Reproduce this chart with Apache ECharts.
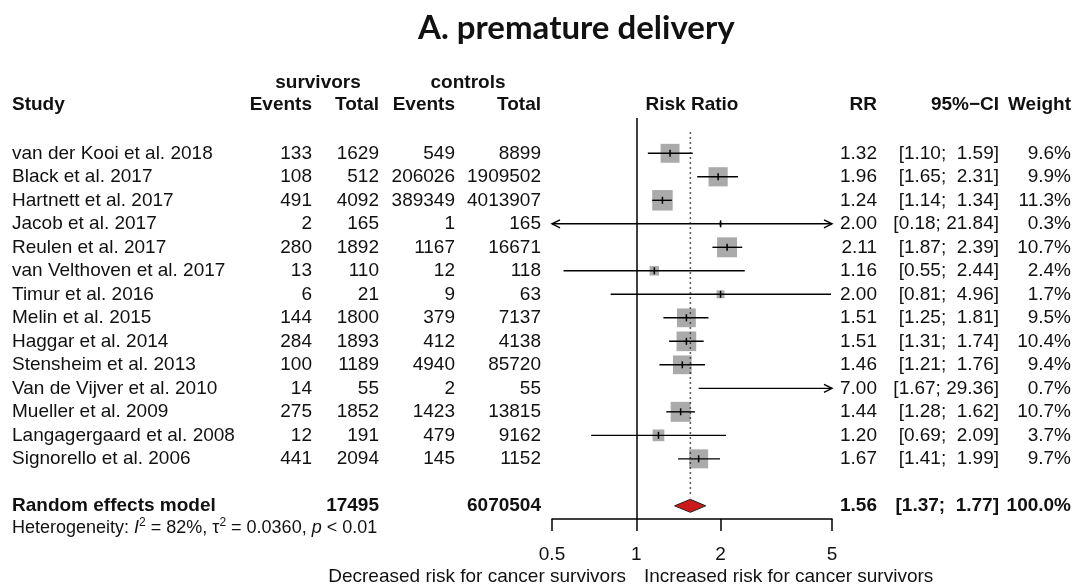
<!DOCTYPE html>
<html>
<head>
<meta charset="UTF-8">
<title>A. premature delivery</title>
<script src="https://cdn.jsdelivr.net/npm/echarts@6/dist/echarts.min.js"></script>
<style>html,body{margin:0;padding:0;background:#fff}</style>
</head>
<body>
<div id="main" style="width:1077px;height:588px"></div>
<script type="text/javascript">
// study data
var studies = ['van der Kooi et al. 2018', 'Black et al. 2017', 'Hartnett et al. 2017', 'Jacob et al. 2017',
    'Reulen et al. 2017', 'van Velthoven et al. 2017', 'Timur et al. 2016', 'Melin et al. 2015',
    'Haggar et al. 2014', 'Stensheim et al. 2013', 'Van de Vijver et al. 2010', 'Mueller et al. 2009',
    'Langagergaard et al. 2008', 'Signorello et al. 2006'];
var evSurv = [133, 108, 491, 2, 280, 13, 6, 144, 284, 100, 14, 275, 12, 441];
var totSurv = [1629, 512, 4092, 165, 1892, 110, 21, 1800, 1893, 1189, 55, 1852, 191, 2094];
var evCtrl = [549, 206026, 389349, 1, 1167, 12, 9, 379, 412, 4940, 2, 1423, 479, 145];
var totCtrl = [8899, 1909502, 4013907, 165, 16671, 118, 63, 7137, 4138, 85720, 55, 13815, 9162, 1152];
var rr = [1.32, 1.96, 1.24, 2.00, 2.11, 1.16, 2.00, 1.51, 1.51, 1.46, 7.00, 1.44, 1.20, 1.67];
var ciLow = [1.10, 1.65, 1.14, 0.18, 1.87, 0.55, 0.81, 1.25, 1.31, 1.21, 1.67, 1.28, 0.69, 1.41];
var ciHigh = [1.59, 2.31, 1.34, 21.84, 2.39, 2.44, 4.96, 1.81, 1.74, 1.76, 29.36, 1.62, 2.09, 1.99];
var weight = [9.6, 9.9, 11.3, 0.3, 10.7, 2.4, 1.7, 9.5, 10.4, 9.4, 0.7, 10.7, 3.7, 9.7];

// pooled (random effects)
var pooledTotals = [17495, 6070504];
var pooledRR = [1.56, 1.37, 1.77];
var pooledWeight = 100.0;
var heterogeneity = ['82%', '0.0360', '0.01'];

var axisTicks = [0.5, 1, 2, 5];
var axisMin = 0.5, axisMax = 5;

var FONT = '"Liberation Sans", Arial, sans-serif';
var FS = 19;
var rows = studies.map(function (s, i) { return i; });
// row positions (in row units of the hidden y axis)
var pooledRow = 15, hetRow = 15.95, headRow = -2.05, groupRow = -3.0;

// column x positions
var xStudy = 12, xEvS = 312, xTotS = 379, xEvC = 455, xTotC = 541, xRR = 877, xCI = 999, xW = 1071;

function ciText(lo, hi) {
    return '[' + lo.toFixed(2) + ';' + (hi < 10 ? '  ' : ' ') + hi.toFixed(2) + ']';
}

// a column of text, placed on the rows of the y axis
function textCol(x, align, rowList, texts, bold) {
    return {
        type: 'custom',
        silent: true,
        data: rowList.map(function (r) { return [1, r]; }),
        encode: {x: 0, y: 1},
        renderItem: function (params, api) {
            var y = api.coord([1, api.value(1)])[1];
            return {
                type: 'text',
                style: {
                    x: x, y: y, text: String(texts[params.dataIndex]),
                    align: align, verticalAlign: 'middle',
                    fontFamily: FONT, fontSize: FS, fontWeight: bold ? 'bold' : 'normal',
                    fill: '#111'
                }
            };
        }
    };
}

var chart = echarts.init(document.getElementById('main'));

var series = [];

// dotted line at pooled estimate + solid line of no effect
series.push({
    type: 'line',
    silent: true,
    symbol: 'none',
    data: [[pooledRR[0], -0.9], [pooledRR[0], 14.65]],
    lineStyle: {color: '#222', width: 1.5, type: [1.5, 3.5]},
    markLine: {
        silent: true,
        symbol: 'none',
        label: {show: false},
        lineStyle: {color: '#000', width: 1.5, type: 'solid'},
        data: [{xAxis: 1}]
    }
});

// study boxes and CIs
series.push({
    type: 'custom',
    silent: true,
    data: rows.map(function (i) { return [rr[i], i, ciLow[i], ciHigh[i], weight[i]]; }),
    encode: {x: [0, 2, 3], y: 1},
    renderItem: function (params, api) {
        var est = api.value(0), row = api.value(1), lo = api.value(2), hi = api.value(3), w = api.value(4);
        var y = api.coord([1, row])[1];
        var xa = api.coord([Math.max(lo, axisMin), row])[0];
        var xb = api.coord([Math.min(hi, axisMax), row])[0];
        var ch = [];
        var xe = null;
        if (est >= axisMin && est <= axisMax) {
            xe = api.coord([est, row])[0];
            var s = 6.1 * Math.sqrt(w);
            ch.push({type: 'rect', shape: {x: xe - s / 2, y: y - s / 2, width: s, height: s},
                style: {fill: '#aaaaaa'}});
        }
        ch.push({type: 'line', shape: {x1: xa, y1: y, x2: xb, y2: y},
            style: {stroke: '#000', lineWidth: 1.4}});
        if (lo < axisMin) {
            ch.push({type: 'polyline', shape: {points: [[xa + 8, y - 4], [xa, y], [xa + 8, y + 4]]},
                style: {stroke: '#000', lineWidth: 1.4, fill: null}});
        }
        if (hi > axisMax) {
            ch.push({type: 'polyline', shape: {points: [[xb - 8, y - 4], [xb, y], [xb - 8, y + 4]]},
                style: {stroke: '#000', lineWidth: 1.4, fill: null}});
        }
        if (xe !== null) {
            ch.push({type: 'line', shape: {x1: xe, y1: y - 3.5, x2: xe, y2: y + 3.5},
                style: {stroke: '#000', lineWidth: 1.5}});
        }
        return {type: 'group', children: ch};
    }
});

// pooled diamond
series.push({
    type: 'custom',
    silent: true,
    data: [[pooledRR[0], pooledRow, pooledRR[1], pooledRR[2]]],
    encode: {x: [0, 2, 3], y: 1},
    renderItem: function (params, api) {
        var row = api.value(1);
        var y = api.coord([1, row])[1];
        var xe = api.coord([api.value(0), row])[0];
        var xa = api.coord([api.value(2), row])[0];
        var xb = api.coord([api.value(3), row])[0];
        return {
            type: 'polygon',
            shape: {points: [[xa, y], [xe, y - 6.5], [xb, y], [xe, y + 6.5]]},
            style: {fill: '#cc1a1a', stroke: '#222', lineWidth: 1}
        };
    }
});

// table columns
series.push(textCol(xStudy, 'left', rows, studies));
series.push(textCol(xEvS, 'right', rows, evSurv));
series.push(textCol(xTotS, 'right', rows, totSurv));
series.push(textCol(xEvC, 'right', rows, evCtrl));
series.push(textCol(xTotC, 'right', rows, totCtrl));
series.push(textCol(xRR, 'right', rows, rr.map(function (v) { return v.toFixed(2); })));
series.push(textCol(xCI, 'right', rows, rows.map(function (i) { return ciText(ciLow[i], ciHigh[i]); })));
series.push(textCol(xW, 'right', rows, weight.map(function (v) { return v.toFixed(1) + '%'; })));

// pooled row
series.push(textCol(xStudy, 'left', [pooledRow], ['Random effects model'], true));
series.push(textCol(xTotS, 'right', [pooledRow], [pooledTotals[0]], true));
series.push(textCol(xTotC, 'right', [pooledRow], [pooledTotals[1]], true));
series.push(textCol(xRR, 'right', [pooledRow], [pooledRR[0].toFixed(2)], true));
series.push(textCol(xCI, 'right', [pooledRow], [ciText(pooledRR[1], pooledRR[2])], true));
series.push(textCol(xW, 'right', [pooledRow], [pooledWeight.toFixed(1) + '%'], true));

// headers
series.push(textCol(318, 'center', [groupRow], ['survivors'], true));
series.push(textCol(468, 'center', [groupRow], ['controls'], true));
series.push(textCol(xStudy, 'left', [headRow], ['Study'], true));
series.push(textCol(xEvS, 'right', [headRow], ['Events'], true));
series.push(textCol(xTotS, 'right', [headRow], ['Total'], true));
series.push(textCol(xEvC, 'right', [headRow], ['Events'], true));
series.push(textCol(xTotC, 'right', [headRow], ['Total'], true));
series.push(textCol(692, 'center', [headRow], ['Risk Ratio'], true));
series.push(textCol(xRR, 'right', [headRow], ['RR'], true));
series.push(textCol(xCI, 'right', [headRow], ['95%\u2212CI'], true));
series.push(textCol(xW, 'right', [headRow], ['Weight'], true));

// heterogeneity line
series.push({
    type: 'custom',
    silent: true,
    data: [[1, hetRow]],
    encode: {x: 0, y: 1},
    renderItem: function (params, api) {
        var y = api.coord([1, api.value(1)])[1];
        return {
            type: 'text',
            style: {
                x: xStudy, y: y, align: 'left', verticalAlign: 'middle',
                text: '{n|Heterogeneity: }{i|I}{s|2}{n| = ' + heterogeneity[0] + ', \u03c4}{s|2}{n| = ' +
                    heterogeneity[1] + ', }{i|p}{n| < ' + heterogeneity[2] + '}',
                rich: {
                    n: {fontFamily: FONT, fontSize: 18, fill: '#111'},
                    i: {fontFamily: FONT, fontSize: 18, fontStyle: 'italic', fill: '#111'},
                    s: {fontFamily: FONT, fontSize: 12, fill: '#111', padding: [0, 0, 11, 0]}
                }
            }
        };
    }
});

var option = {
    animation: false,
    backgroundColor: '#fff',
    grid: {left: 552, right: 245, top: 118, bottom: 69},
    xAxis: {
        type: 'log',
        logBase: 10,
        min: axisMin,
        max: axisMax,
        axisLine: {onZero: false, lineStyle: {color: '#000', width: 1.5}},
        axisTick: {customValues: axisTicks, length: 12, lineStyle: {color: '#000', width: 1.5}},
        axisLabel: {
            customValues: axisTicks, margin: 26, color: '#111', fontSize: FS, fontFamily: FONT,
            formatter: function (v) { return String(Number(Number(v).toPrecision(6))); }
        },
        splitLine: {show: false},
        minorTick: {show: false}
    },
    yAxis: {
        type: 'value',
        inverse: true,
        min: -1.502,
        max: 15.56,
        show: false
    },
    graphic: [
        {type: 'text', left: 418, top: 12, style: {text: 'A. premature delivery',
            font: 'bold 33px Lato, "Open Sans", sans-serif', fill: '#111'}},
        {type: 'text', right: 1077 - 626, top: 567, style: {text: 'Decreased risk for cancer survivors',
            fontFamily: FONT, fontSize: FS, fill: '#111'}},
        {type: 'text', left: 644, top: 567, style: {text: 'Increased risk for cancer survivors',
            fontFamily: FONT, fontSize: FS, fill: '#111'}}
    ],
    series: series
};
chart.setOption(option);
</script>
</body>
</html>
